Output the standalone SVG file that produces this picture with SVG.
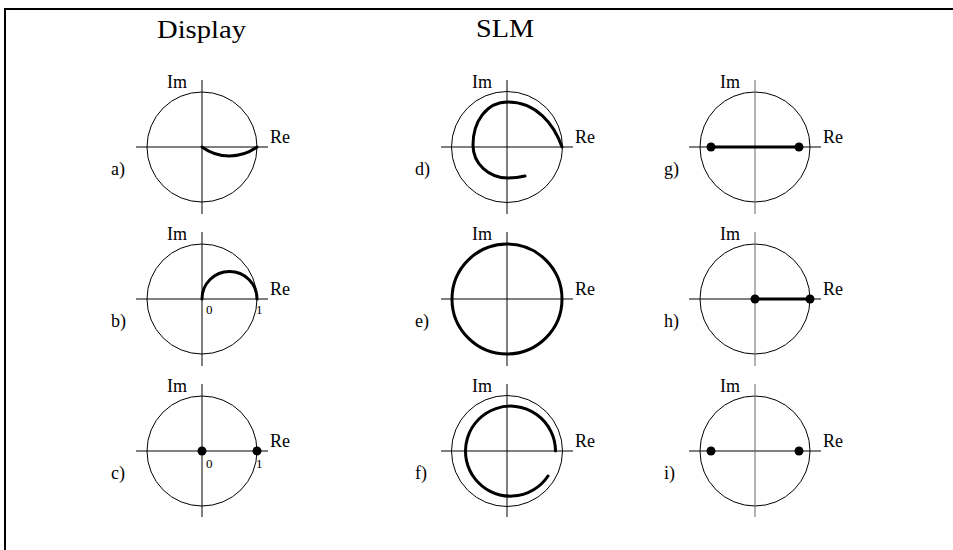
<svg xmlns="http://www.w3.org/2000/svg" width="953" height="550" viewBox="0 0 953 550" font-family="'Liberation Serif', 'Times New Roman', Times, serif">
<style>
.ax{stroke:#000;stroke-width:1;fill:none}
.axg{stroke:#666;stroke-width:1;fill:none}
.uc{stroke:#000;stroke-width:1;fill:none}
.thk{stroke:#000;stroke-width:3;fill:none;stroke-linecap:round}
.dot{fill:#000}
text{fill:#000}
.lbl{font-size:18px}
.num{font-size:13px}
.ttl{font-size:26px}
</style>
<rect width="953" height="550" fill="#fff"/>
<path d="M5,550 V9 H953" stroke="#000" stroke-width="2" fill="none"/>
<text class="ttl" x="157" y="38" textLength="89" lengthAdjust="spacingAndGlyphs">Display</text>
<text class="ttl" x="476" y="37" textLength="58" lengthAdjust="spacingAndGlyphs">SLM</text>

<g id="node-a">
<circle class="uc" cx="202" cy="147" r="55"/>
<line class="ax" x1="136" y1="147" x2="268" y2="147"/>
<line class="ax" x1="202" y1="80" x2="202" y2="214"/>
<path class="thk" d="M202,147 A46.5,46.5 0 0 0 257,147"/>
<text class="lbl" x="167" y="88">Im</text>
<text class="lbl" x="270" y="143">Re</text>
<text class="lbl" x="111" y="175">a)</text>
</g>
<g id="node-b">
<circle class="uc" cx="202" cy="299" r="55"/>
<line class="ax" x1="136" y1="299" x2="268" y2="299"/>
<line class="ax" x1="202" y1="232" x2="202" y2="366"/>
<path class="thk" d="M202,299 A27.5,27.5 0 0 1 257,299"/>
<text class="lbl" x="167" y="240">Im</text>
<text class="lbl" x="270" y="295">Re</text>
<text class="lbl" x="111" y="327">b)</text>
<text class="num" x="206" y="314">0</text>
<text class="num" x="256" y="314">1</text>
</g>
<g id="node-c">
<circle class="uc" cx="202" cy="451" r="55"/>
<line class="ax" x1="136" y1="451" x2="268" y2="451"/>
<line class="ax" x1="202" y1="384" x2="202" y2="517"/>
<circle class="dot" cx="202" cy="451" r="4.5"/>
<circle class="dot" cx="257" cy="451" r="4.5"/>
<text class="lbl" x="167" y="392">Im</text>
<text class="lbl" x="270" y="447">Re</text>
<text class="lbl" x="111" y="479">c)</text>
<text class="num" x="206" y="468">0</text>
<text class="num" x="256" y="468">1</text>
</g>

<g id="node-d">
<circle class="uc" cx="507" cy="147" r="55.5"/>
<line class="ax" x1="441" y1="147" x2="573" y2="147"/>
<line class="ax" x1="507" y1="80" x2="507" y2="214"/>
<path class="thk" d="M562,147 C554,124 536,102 508,102 C486,102 473,122 473,145 C473,164 489,178 508,178 C515,178 521,177 525,176"/>
<text class="lbl" x="472" y="88">Im</text>
<text class="lbl" x="575" y="143">Re</text>
<text class="lbl" x="415" y="175">d)</text>
</g>
<g id="node-e">
<line class="ax" x1="441" y1="299" x2="573" y2="299"/>
<line class="ax" x1="507" y1="232" x2="507" y2="366"/>
<circle class="thk" cx="507" cy="299" r="55"/>
<text class="lbl" x="472" y="240">Im</text>
<text class="lbl" x="575" y="295">Re</text>
<text class="lbl" x="415" y="327">e)</text>
</g>
<g id="node-f">
<circle class="uc" cx="507" cy="451" r="55.5"/>
<line class="ax" x1="441" y1="451" x2="573" y2="451"/>
<line class="ax" x1="507" y1="384" x2="507" y2="517"/>
<path class="thk" d="M555.5,451 A45,45 0 1 0 548,476"/>
<text class="lbl" x="472" y="392">Im</text>
<text class="lbl" x="575" y="447">Re</text>
<text class="lbl" x="415" y="479">f)</text>
</g>

<g id="node-g">
<circle class="uc" cx="755" cy="147" r="55"/>
<line class="ax" x1="689" y1="147" x2="821" y2="147"/>
<line class="axg" x1="755" y1="80" x2="755" y2="214"/>
<line class="thk" x1="711" y1="147" x2="799" y2="147"/>
<circle class="dot" cx="711" cy="147" r="4.5"/>
<circle class="dot" cx="799" cy="147" r="4.5"/>
<text class="lbl" x="720" y="88">Im</text>
<text class="lbl" x="823" y="143">Re</text>
<text class="lbl" x="664" y="175">g)</text>
</g>
<g id="node-h">
<circle class="uc" cx="755" cy="299" r="55"/>
<line class="ax" x1="689" y1="299" x2="821" y2="299"/>
<line class="axg" x1="755" y1="232" x2="755" y2="366"/>
<line class="thk" x1="755" y1="299" x2="810" y2="299"/>
<circle class="dot" cx="755" cy="299" r="4.5"/>
<circle class="dot" cx="810" cy="299" r="4.5"/>
<text class="lbl" x="720" y="240">Im</text>
<text class="lbl" x="823" y="295">Re</text>
<text class="lbl" x="664" y="327">h)</text>
</g>
<g id="node-i">
<circle class="uc" cx="755" cy="451" r="55"/>
<line class="ax" x1="689" y1="451" x2="821" y2="451"/>
<line class="axg" x1="755" y1="384" x2="755" y2="517"/>
<circle class="dot" cx="711" cy="451" r="4.5"/>
<circle class="dot" cx="799" cy="451" r="4.5"/>
<text class="lbl" x="720" y="392">Im</text>
<text class="lbl" x="823" y="447">Re</text>
<text class="lbl" x="664" y="479">i)</text>
</g>
<g id="connectors"></g>
</svg>
